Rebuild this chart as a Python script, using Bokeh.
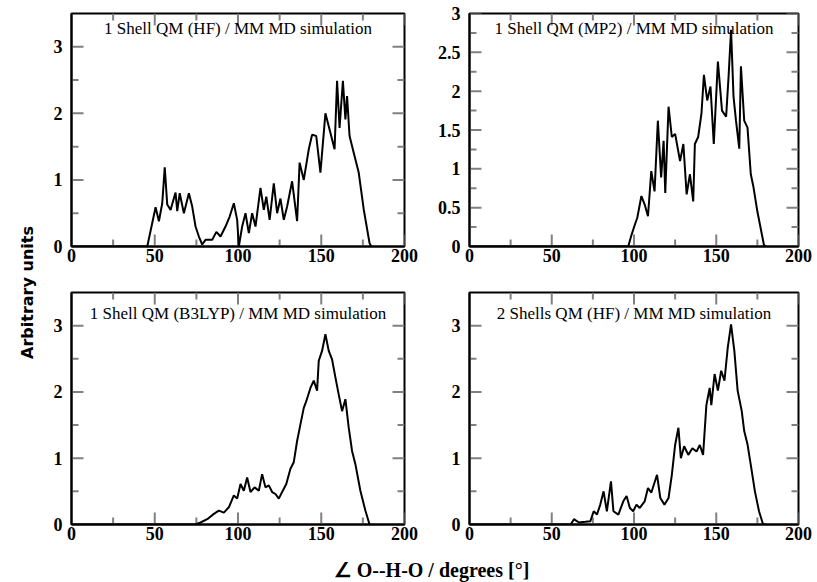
from bokeh.plotting import figure
from bokeh.layouts import row, column
from bokeh.models import (Range1d, LinearAxis, FixedTicker, Label,
                          CustomJSTickFormatter)
from bokeh.embed import file_html
from bokeh.resources import INLINE
import math

# ---------------- data ----------------
angle_a = [0, 45.5, 50.5, 52.5, 54.5, 56, 57.5, 59.5, 62.5, 63.5,
           65, 67.5, 70.5, 72.5, 74.5, 76.5, 78.5, 80.5, 84.5, 87,
           89.5, 92.5, 95, 97.5, 99.5, 100.5, 102.5, 104.5, 106.5, 108.5,
           110.5, 113.5, 115.5, 117, 119, 121.5, 123.5, 125.5, 127.5, 129.5,
           132.5, 135.5, 137, 139.5, 142.5, 144.5, 147, 149.5, 152.5, 155.5,
           158, 159.5, 161, 163, 164.5, 165.5, 167, 169.5, 172.5, 175.5,
           179, 180]
value_a = [0, 0, 0.59, 0.38, 0.65, 1.19, 0.63, 0.55, 0.81, 0.53,
           0.8, 0.5, 0.8, 0.6, 0.3, 0.15, 0.03, 0.1, 0.1, 0.22,
           0.15, 0.3, 0.45, 0.65, 0.4, 0.0, 0.3, 0.5, 0.2, 0.5,
           0.3, 0.88, 0.55, 0.75, 0.4, 0.95, 0.5, 0.72, 0.4, 0.6,
           0.98, 0.38, 1.26, 1.0, 1.46, 1.68, 1.66, 1.11, 2.0, 1.71,
           1.46, 2.49, 1.78, 2.49, 1.91, 2.26, 1.66, 1.41, 1.11, 0.56,
           0.05, 0]

angle_b = [0, 96.5, 98.5, 100.5, 102, 104.5, 106.5, 108.5, 110.5, 112.5,
           114.5, 116.5, 118, 119, 121, 123, 125, 128, 130, 132,
           134, 136, 137, 139, 141, 142.5, 144.5, 146.5, 148.5, 151,
           153.5, 156, 157.5, 159, 160.5, 162, 164, 165, 167, 169,
           171, 172.5, 175, 179, 180]
value_b = [0, 0, 0.15, 0.28, 0.37, 0.65, 0.54, 0.39, 0.97, 0.71,
           1.62, 0.89, 1.36, 0.69, 1.8, 1.41, 1.45, 1.1, 1.32, 0.67,
           0.93, 0.58, 1.32, 1.41, 1.71, 2.21, 1.88, 2.06, 1.32, 2.38,
           1.75, 1.67, 2.19, 2.79, 1.93, 1.62, 1.26, 2.32, 1.62, 1.53,
           0.93, 0.78, 0.45, 0.02, 0]

angle_c = [0, 74.5, 77.5, 81.5, 85.5, 88.5, 91.5, 94.5, 97.5, 99.5,
           101.5, 103.5, 105.5, 107.5, 110, 112.5, 114.5, 116.5, 118.5, 120.5,
           122.5, 124.5, 126.5, 129, 131.5, 133.5, 135.5, 137.5, 139.5, 141,
           143.5, 145.5, 147.5, 148.5, 150.5, 152.5, 154.5, 156.5, 158.5, 160.5,
           162.5, 164.5, 166.5, 168.5, 170.5, 173.5, 176.5, 179, 180]
value_c = [0, 0, 0.03, 0.08, 0.16, 0.21, 0.18, 0.26, 0.44, 0.39,
           0.61, 0.51, 0.71, 0.49, 0.56, 0.51, 0.76, 0.56, 0.59, 0.49,
           0.46, 0.39, 0.49, 0.61, 0.84, 0.94, 1.26, 1.51, 1.76, 1.86,
           2.06, 2.17, 2.02, 2.47, 2.62, 2.87, 2.62, 2.49, 2.22, 1.96,
           1.71, 1.89, 1.46, 1.11, 0.91, 0.51, 0.21, 0, 0]

angle_d = [0, 61.5, 63.5, 66.5, 70.5, 73.5, 75.5, 77.5, 79.5, 81.5,
           83.5, 86, 87.5, 90.5, 93.5, 95.5, 97.5, 99.5, 101.5, 103.5,
           106.5, 108.5, 110.5, 114, 116, 118.5, 121, 123, 125, 127,
           128.5, 130.5, 133, 135.5, 138, 140, 142, 144, 146, 147,
           149, 151, 153, 155, 157, 159, 161, 163, 165.5, 167,
           169, 171, 173.5, 176, 178.5, 180]
value_d = [0, 0, 0.08, 0.03, 0.04, 0.05, 0.2, 0.15, 0.3, 0.5,
           0.2, 0.65, 0.2, 0.15, 0.35, 0.43, 0.25, 0.2, 0.3, 0.25,
           0.35, 0.55, 0.48, 0.75, 0.4, 0.3, 0.4, 0.75, 1.2, 1.46,
           1.0, 1.18, 1.05, 1.15, 1.1, 1.2, 1.05, 1.8, 2.06, 1.8,
           2.27, 2.02, 2.32, 2.17, 2.67, 3.02, 2.62, 2.02, 1.71, 1.41,
           1.21, 0.9, 0.5, 0.2, 0, 0]

titles = ["1 Shell QM (HF) / MM MD simulation",
          "1 Shell QM (MP2) / MM MD simulation",
          "1 Shell QM (B3LYP) / MM MD simulation",
          "2 Shells QM (HF) / MM MD simulation"]

x_major = [0, 50, 100, 150, 200]
x_minor = [25, 75, 125, 175]
y_major_int = [0, 1, 2, 3]
y_minor_int = [0.5, 1.5, 2.5]
y_major_half = [0, 0.5, 1, 1.5, 2, 2.5, 3]
y_minor_half = [0.25, 0.75, 1.25, 1.75, 2.25, 2.75]

y_label = "Arbitrary units"
x_label = "\u2220 O--H-O / degrees [\u00b0]"

SERIF = "Liberation Serif"
TICK_COLOR = "#808080"
FMT = CustomJSTickFormatter(code="return String(Math.round(tick*100)/100);")
MAJOR_PX = 12
MINOR_PX = 7


def style_axis(ax, standoff):
    ax.axis_line_color = "black"
    ax.axis_line_width = 2
    ax.major_tick_in = 0
    ax.major_tick_out = 0
    ax.minor_tick_in = 0
    ax.minor_tick_out = 0
    ax.formatter = FMT
    ax.major_label_standoff = standoff
    ax.major_label_text_font = SERIF
    ax.major_label_text_font_size = "18px"
    ax.major_label_text_font_style = "bold"
    ax.major_label_text_color = "black"


def panel(xs, ys, title, ymax, ymaj, ymin, bl, br, bt, bb, fw, fh, title_off):
    x0, x1 = 0, 200
    p = figure(frame_width=fw, frame_height=fh, x_range=Range1d(x0, x1),
               y_range=Range1d(0, ymax), toolbar_location=None,
               output_backend="svg", min_border_left=bl, min_border_right=br,
               min_border_top=bt, min_border_bottom=bb,
               x_axis_location=None, y_axis_location=None)
    p.grid.visible = False
    p.outline_line_color = "black"
    p.outline_line_width = 2
    xb = LinearAxis(ticker=FixedTicker(ticks=x_major))
    style_axis(xb, 2)
    yl = LinearAxis(ticker=FixedTicker(ticks=ymaj))
    style_axis(yl, 9)
    p.add_layout(xb, "below")
    p.add_layout(yl, "left")

    # inward tick marks on all four sides (lengths converted from pixels)
    ppx_y = ymax / fh
    ppx_x = (x1 - x0) / fw
    for ticks, L in ((x_major, MAJOR_PX), (x_minor, MINOR_PX)):
        n = len(ticks)
        p.segment(x0=ticks * 2, x1=ticks * 2,
                  y0=[0] * n + [ymax] * n,
                  y1=[L * ppx_y] * n + [ymax - L * ppx_y] * n,
                  line_color=TICK_COLOR, line_width=2)
    for ticks, L in ((ymaj, MAJOR_PX), (ymin, MINOR_PX)):
        n = len(ticks)
        p.segment(y0=ticks * 2, y1=ticks * 2,
                  x0=[x0] * n + [x1] * n,
                  x1=[x0 + L * ppx_x] * n + [x1 - L * ppx_x] * n,
                  line_color=TICK_COLOR, line_width=2)

    p.line(xs, ys, line_color="black", line_width=2)
    p.add_layout(Label(x=100, y=ymax, y_offset=-title_off, text=title,
                       text_font=SERIF, text_font_size="17px",
                       text_align="center", text_baseline="middle",
                       text_color="black"))
    return p


p1 = panel(angle_a, value_a, titles[0], 3.5, y_major_int, y_minor_int,
           31, 20, 13, 36, 333, 233, 15)
p2 = panel(angle_b, value_b, titles[1], 3.0, y_major_half, y_minor_half,
           45, 19, 13, 36, 329, 233, 15)
p3 = panel(angle_c, value_c, titles[2], 3.5, y_major_int, y_minor_int,
           31, 20, 10, 24, 333, 232, 21)
p4 = panel(angle_d, value_d, titles[3], 3.5, y_major_int, y_minor_int,
           45, 19, 10, 24, 329, 232, 21)


def label_fig(w, h):
    f = figure(width=w, height=h, x_range=Range1d(0, w), y_range=Range1d(0, h),
               toolbar_location=None, output_backend="svg", min_border=0,
               x_axis_location=None, y_axis_location=None)
    f.grid.visible = False
    f.outline_line_color = None
    return f


ly = label_fig(40, 582)
ly.add_layout(Label(x=27, y=290, text=y_label, angle=math.pi / 2,
                    text_font="DejaVu Sans", text_font_size="16px",
                    text_font_style="bold", text_align="center",
                    text_baseline="middle", text_color="black"))

lx = label_fig(777, 34)
lx.add_layout(Label(x=391, y=13, text=x_label, text_font=SERIF,
                    text_font_size="20px", text_font_style="bold",
                    text_align="center", text_baseline="middle",
                    text_color="black"))

layout = row(ly, column(row(p1, p2), row(p3, p4), lx))

open("out.html", "w").write(file_html(layout, INLINE))
